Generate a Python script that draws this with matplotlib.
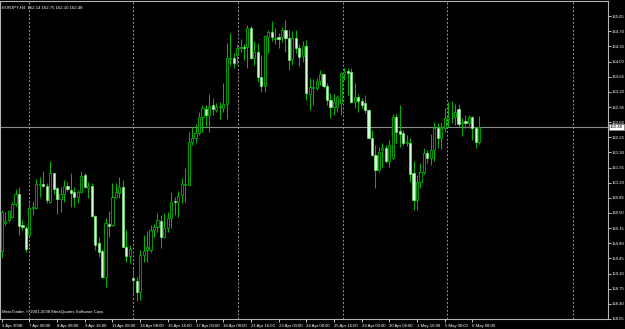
import matplotlib
matplotlib.use("Agg")
import matplotlib.pyplot as plt
from matplotlib import font_manager
import numpy as np

# EURJPY H4 candles
opens = [159.62, 160.28, 160.34, 160.41, 160.70, 160.94, 160.22, 160.16, 159.98, 160.61,
         160.61, 161.15, 161.18, 161.12, 160.76, 161.42, 161.07, 160.82, 160.95, 161.12,
         161.03, 160.99, 160.88, 160.99, 161.38, 161.08, 161.13, 160.44, 159.80, 159.63,
         159.03, 160.25, 160.22, 160.88, 160.97, 161.09, 159.72, 159.51, 159.00, 158.93,
         158.68, 159.53, 159.64, 159.64, 160.11, 160.18, 160.32, 159.95, 160.15, 160.38,
         160.78, 160.75, 160.92, 161.15, 161.15, 162.14, 162.23, 162.35, 162.72, 162.90,
         162.76, 163.00, 162.88, 162.95, 162.93, 163.02, 164.06, 164.08, 164.15, 164.31,
         164.33, 164.33, 164.77, 164.08, 164.22, 163.64, 163.43, 164.57, 164.68, 164.52,
         164.57, 164.57, 164.73, 164.54, 164.06, 164.54, 164.31, 164.13, 164.36, 163.25,
         163.39, 163.39, 163.55, 163.71, 163.43, 163.11, 162.95, 162.95, 163.04, 163.71,
         163.78, 163.76, 163.06, 163.18, 163.09, 163.04, 162.88, 162.23, 161.84, 161.49,
         161.95, 162.00, 161.70, 161.77, 162.72, 162.39, 162.35, 162.12, 162.12, 161.42,
         160.80, 161.22, 161.45, 161.89, 161.77, 161.95, 162.46, 162.23, 162.46, 162.67,
         162.69, 162.72, 162.90, 162.58, 162.63, 162.58, 162.72, 162.46, 162.14]
highs = [160.57, 160.53, 160.57, 160.76, 161.05, 161.09, 160.34, 160.20, 160.72, 160.78,
         161.28, 161.34, 161.46, 161.19, 161.70, 161.43, 161.09, 161.11, 161.26, 161.22,
         161.43, 161.11, 161.03, 161.46, 161.42, 161.22, 161.19, 160.45, 159.95, 159.66,
         160.38, 160.55, 161.19, 161.20, 161.34, 161.26, 160.11, 159.76, 159.24, 159.03,
         159.64, 159.99, 160.08, 160.22, 160.25, 160.50, 160.45, 160.50, 160.52, 160.98,
         160.87, 161.01, 161.31, 161.54, 162.37, 162.49, 162.56, 162.83, 163.00, 163.00,
         163.25, 163.16, 163.04, 163.06, 163.50, 164.43, 164.66, 164.20, 164.40, 164.52,
         164.40, 164.84, 164.82, 164.47, 164.43, 164.15, 164.61, 164.73, 164.93, 164.77,
         164.66, 164.80, 164.96, 164.73, 164.70, 164.73, 164.40, 164.47, 164.50, 163.62,
         163.60, 163.62, 163.80, 163.73, 163.50, 163.27, 163.25, 163.23, 163.76, 163.85,
         163.85, 163.85, 163.50, 163.25, 163.16, 163.23, 162.90, 162.42, 162.07, 162.02,
         162.12, 162.07, 162.19, 162.79, 162.81, 163.00, 162.42, 162.30, 162.23, 161.70,
         161.38, 161.65, 162.00, 161.95, 162.32, 162.60, 162.58, 162.60, 162.93, 163.06,
         163.09, 163.02, 163.02, 162.69, 162.76, 162.76, 162.74, 162.49, 162.75]
lows = [159.46, 160.22, 160.30, 160.38, 160.66, 159.99, 160.11, 159.61, 159.97, 160.45,
        160.59, 160.88, 161.11, 160.72, 160.72, 160.95, 160.48, 160.53, 160.76, 161.01,
        160.65, 160.65, 160.72, 160.97, 161.08, 160.84, 160.41, 159.64, 159.49, 158.99,
        158.78, 159.95, 160.20, 160.84, 160.84, 159.71, 159.37, 159.34, 158.61, 158.47,
        158.49, 159.37, 159.37, 159.60, 159.95, 160.06, 159.68, 159.92, 160.06, 160.15,
        160.45, 160.41, 160.73, 160.75, 161.12, 162.07, 162.12, 162.30, 162.37, 162.49,
        162.37, 162.76, 162.83, 162.67, 162.83, 162.67, 163.92, 163.85, 163.94, 164.22,
        164.03, 163.85, 164.07, 163.92, 163.53, 163.29, 163.29, 164.20, 164.47, 164.40,
        164.31, 164.45, 164.22, 163.80, 163.92, 164.20, 163.90, 163.99, 163.11, 162.88,
        162.99, 163.34, 163.46, 163.39, 162.99, 162.69, 162.76, 162.83, 162.76, 163.57,
        163.23, 163.04, 162.93, 162.83, 162.93, 162.81, 162.22, 161.82, 161.08, 161.45,
        161.56, 161.65, 161.56, 161.75, 162.12, 162.02, 162.07, 162.05, 161.22, 160.57,
        160.57, 161.08, 161.40, 161.65, 161.61, 161.70, 162.00, 161.98, 162.37, 162.49,
        162.58, 162.53, 162.49, 162.28, 162.46, 162.46, 162.19, 162.00, 162.10]
closes = [160.52, 160.32, 160.55, 160.71, 160.94, 160.20, 160.17, 159.66, 160.62, 160.65,
          161.17, 161.18, 161.12, 160.80, 161.42, 161.05, 160.82, 160.95, 161.12, 161.05,
          160.97, 160.86, 160.98, 161.35, 161.09, 161.13, 160.44, 159.76, 159.61, 159.03,
          160.26, 160.20, 160.86, 160.98, 161.09, 159.72, 159.51, 159.66, 158.95, 158.68,
          159.53, 159.62, 159.71, 160.11, 160.18, 160.34, 159.95, 160.15, 160.38, 160.75,
          160.75, 160.89, 161.17, 161.17, 162.14, 162.23, 162.35, 162.72, 162.93, 162.76,
          162.97, 162.90, 162.95, 162.96, 163.02, 164.08, 164.08, 163.96, 164.31, 164.33,
          164.32, 164.77, 164.08, 164.22, 163.64, 163.43, 164.59, 164.68, 164.57, 164.54,
          164.52, 164.73, 164.54, 164.03, 164.54, 164.31, 164.10, 164.36, 163.27, 163.41,
          163.41, 163.55, 163.71, 163.43, 163.11, 162.95, 163.06, 163.18, 163.73, 163.76,
          163.73, 163.06, 163.18, 163.09, 163.00, 162.88, 162.23, 161.84, 161.49, 161.91,
          162.00, 161.70, 162.07, 162.72, 162.37, 162.32, 162.12, 162.13, 161.40, 160.80,
          161.22, 161.45, 161.89, 161.77, 161.95, 162.46, 162.23, 162.49, 162.69, 162.72,
          162.70, 162.83, 162.56, 162.60, 162.58, 162.72, 162.46, 162.14, 162.48]

price_ticks = [158.05, 158.40, 158.75, 159.10, 159.45, 159.80, 160.15, 160.50, 160.85,
               161.20, 161.55, 161.90, 162.25, 162.60, 162.95, 163.30, 163.65, 164.00,
               164.35, 164.70, 165.05]
date_labels = ["3 Apr 2008", "7 Apr 08:00", "8 Apr 08:00", "9 Apr 16:00", "11 Apr 08:00",
               "14 Apr 08:00", "15 Apr 16:00", "17 Apr 00:00", "18 Apr 08:00",
               "21 Apr 16:00", "23 Apr 00:00", "24 Apr 08:00", "25 Apr 16:00",
               "29 Apr 00:00", "30 Apr 08:00", "1 May 16:00", "5 May 00:00", "6 May 08:00"]
label_every = 8
grid_bars = [8, 38, 68.3, 98.6, 128.8, 165.1]
bid = 162.48
title = "EURJPY,H4  162.14 162.75 162.10 162.48"

o = np.array(opens)
h = np.array(highs)
l = np.array(lows)
c = np.array(closes)
x = np.arange(len(o))

# the screenshot text is a squashed bitmap font; pick something narrow
installed = {f.name for f in font_manager.fontManager.ttflist}
if "Liberation Sans Narrow" in installed:
    small = dict(family="Liberation Sans Narrow", size=3.8)
else:
    small = dict(family="Liberation Sans", size=3.1)

fig = plt.figure(figsize=(6.25, 3.29), dpi=100, facecolor="black")
ax = fig.add_axes([0, 10 / 329, 608 / 625, 318 / 329], facecolor="black")

wick_col = "#00b400"
up = c >= o

# grid + bid line
for g in grid_bars:
    ax.axvline(g, color="#9a9a9a", lw=0.7, ls=(0, (2, 2)), zorder=1)
ax.axhline(bid, color="#8c8c8c", lw=0.8, zorder=1)

# wicks then bodies
ax.vlines(x, l, h, color=wick_col, lw=0.75, zorder=2)
body_lo = np.minimum(o, c)
body_h = np.maximum(np.abs(c - o), 0.012)
ax.bar(x[up], body_h[up], bottom=body_lo[up], width=0.62, facecolor="black",
       edgecolor=wick_col, linewidth=0.6, zorder=3)
ax.bar(x[~up], body_h[~up], bottom=body_lo[~up], width=0.62, facecolor="#d4ffd4",
       edgecolor="#7dff7d", linewidth=0.4, zorder=3)

ax.set_xlim(-0.5, 175.2)
ax.set_ylim(158.05, 165.40)

for s in ["left", "top", "right", "bottom"]:
    ax.spines[s].set_color("#b4b4b4")
    ax.spines[s].set_linewidth(0.8)

ax.yaxis.tick_right()
ax.set_yticks(price_ticks)
ax.set_yticklabels([f"{p:.2f}" for p in price_ticks], fontdict=small)
ax.tick_params(axis="y", colors="#c8c8c8", labelcolor="white",
               length=1.8, width=0.7, pad=1.0)

ax.set_xticks(np.arange(len(date_labels)) * label_every)
ax.set_xticklabels(date_labels, fontdict=small)
ax.tick_params(axis="x", colors="#c8c8c8", labelcolor="white",
               length=2.5, width=0.7, pad=0.8)
for lbl in ax.get_xticklabels():
    lbl.set_ha("left")

ax.text(0.004, 0.985, title, transform=ax.transAxes, color="white", va="top",
        ha="left", fontdict=small)
ax.text(0.004, 0.015, "MetaTrader, \u00a9 2001-2008 MetaQuotes Software Corp.",
        transform=ax.transAxes, color="white", va="bottom", ha="left", fontdict=small)
ax.annotate(f"{bid:.2f}", xy=(1, bid), xycoords=("axes fraction", "data"),
            xytext=(1.3, 0), textcoords="offset points", va="center", ha="left",
            color="black", fontfamily=small["family"], fontsize=small["size"],
            bbox=dict(boxstyle="square,pad=0.2", facecolor="white", edgecolor="#8c8c8c",
                      linewidth=0.6))

fig.savefig("out.png", dpi=100, facecolor="black")
